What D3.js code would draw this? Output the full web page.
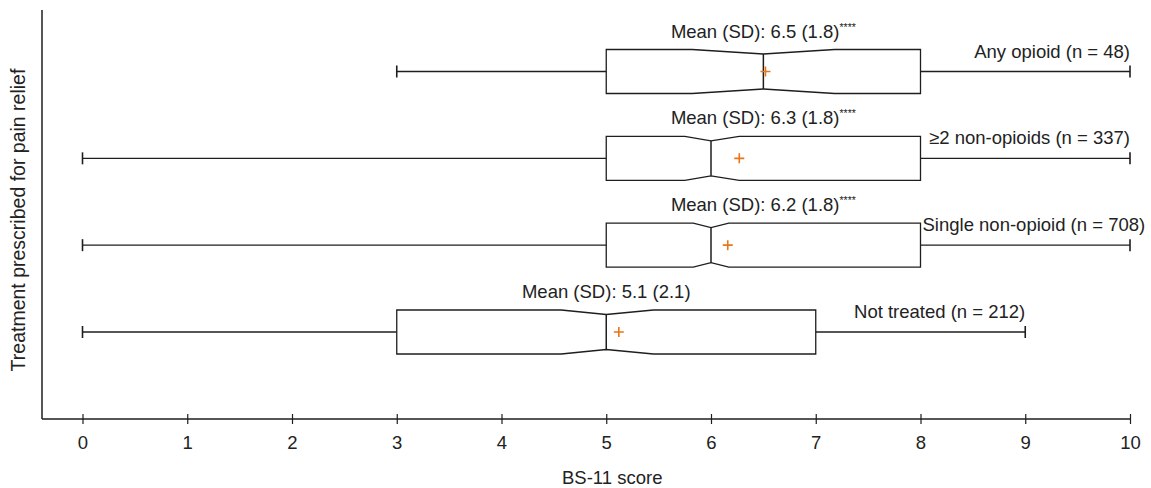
<!DOCTYPE html>
<html>
<head>
<meta charset="utf-8">
<script src="https://cdn.jsdelivr.net/npm/d3@7"></script>
<style>
  body { margin: 0; background: #fff; }
  text { font-family: "Liberation Sans", Arial, sans-serif; fill: #222; }
</style>
</head>
<body>
<svg id="chart" width="1151" height="488"></svg>
<script>
// box plot values (top to bottom)
const groups = ["Any opioid", "≥2 non-opioids", "Single non-opioid", "Not treated"];
const groupN = [48, 337, 708, 212];
const whiskerLo = [3, 0, 0, 0];
const q1 = [5, 5, 5, 3];
const median = [6.5, 6, 6, 5];
const q3 = [8, 8, 8, 7];
const whiskerHi = [10, 10, 10, 9];
const notchLo = [5.82, 5.75, 5.83, 4.57];
const notchHi = [7.18, 6.27, 6.17, 5.45];
const means = [6.52, 6.27, 6.16, 5.12];
const meanLabels = ["Mean (SD): 6.5 (1.8)", "Mean (SD): 6.3 (1.8)", "Mean (SD): 6.2 (1.8)", "Mean (SD): 5.1 (2.1)"];
const sigMarks = ["****", "****", "****", ""];
const xTicks = [0, 1, 2, 3, 4, 5, 6, 7, 8, 9, 10];

const svg = d3.select("#chart");
const axisX = 42, axisY = 419, topY = 10;
const boxHalf = 22, notchDepth = 4.5, capHalf = 6;
const ink = "#1e1e1e";
const fs = "18.5px";

const x = d3.scaleLinear().domain([0, 10]).range([82.5, 1130]);
const y = d3.scalePoint().domain(groups).range([71.5, 332]);

const rows = groups.map((g, i) => ({
  g, n: groupN[i], lo: whiskerLo[i], q1: q1[i], med: median[i], q3: q3[i],
  hi: whiskerHi[i], nLo: notchLo[i], nHi: notchHi[i], mean: means[i],
  label: meanLabels[i], sig: sigMarks[i]
}));

// axes lines
svg.append("line")
  .attr("x1", axisX).attr("x2", axisX)
  .attr("y1", topY).attr("y2", axisY)
  .attr("stroke", ink).attr("stroke-width", 1.5);

const xAxis = svg.append("g")
  .attr("transform", `translate(0,${axisY})`)
  .call(d3.axisBottom(x).tickValues(xTicks).tickFormat(d3.format("d")));
xAxis.select(".domain").remove();
xAxis.insert("line", ":first-child")
  .attr("x1", axisX).attr("x2", x(10))
  .attr("stroke", ink).attr("stroke-width", 1.5);
xAxis.selectAll(".tick line")
  .attr("y1", -5).attr("y2", 5)
  .attr("stroke", ink).attr("stroke-width", 1.2);
xAxis.selectAll(".tick text")
  .attr("y", 17).attr("dy", "0.71em")
  .style("font-size", fs)
  .style("font-family", "'Liberation Sans', Arial, sans-serif")
  .attr("fill", ink);

svg.append("text")
  .attr("x", x(5) + 6).attr("y", 484)
  .attr("text-anchor", "middle")
  .style("font-size", fs)
  .text("BS-11 score");

svg.append("text")
  .attr("transform", "translate(25,220) rotate(-90)")
  .attr("text-anchor", "middle")
  .style("font-size", "19.5px")
  .text("Treatment prescribed for pain relief");

const g = svg.selectAll(".box").data(rows).enter().append("g").attr("class", "box");

// whiskers and caps
g.append("line")
  .attr("x1", (d) => x(d.lo)).attr("x2", (d) => x(d.q1))
  .attr("y1", (d) => y(d.g)).attr("y2", (d) => y(d.g))
  .attr("stroke", ink).attr("stroke-width", 1.3);
g.append("line")
  .attr("x1", (d) => x(d.q3)).attr("x2", (d) => x(d.hi))
  .attr("y1", (d) => y(d.g)).attr("y2", (d) => y(d.g))
  .attr("stroke", ink).attr("stroke-width", 1.3);
["lo", "hi"].forEach((k) => {
  g.append("line")
    .attr("x1", (d) => x(d[k])).attr("x2", (d) => x(d[k]))
    .attr("y1", (d) => y(d.g) - capHalf).attr("y2", (d) => y(d.g) + capHalf)
    .attr("stroke", ink).attr("stroke-width", 1.6);
});

// notched box
g.append("path")
  .attr("d", (d) => {
    const c = y(d.g), t = c - boxHalf, b = c + boxHalf;
    return `M${x(d.q1)},${t}L${x(d.nLo)},${t}L${x(d.med)},${t + notchDepth}L${x(d.nHi)},${t}L${x(d.q3)},${t}` +
      `L${x(d.q3)},${b}L${x(d.nHi)},${b}L${x(d.med)},${b - notchDepth}L${x(d.nLo)},${b}L${x(d.q1)},${b}Z`;
  })
  .attr("fill", "#fff")
  .attr("stroke", ink).attr("stroke-width", 1.3);
g.append("line")
  .attr("x1", (d) => x(d.med)).attr("x2", (d) => x(d.med))
  .attr("y1", (d) => y(d.g) - boxHalf + notchDepth)
  .attr("y2", (d) => y(d.g) + boxHalf - notchDepth)
  .attr("stroke", ink).attr("stroke-width", 1.5);

// mean marker
g.append("path")
  .attr("d", (d) => {
    const cx = x(d.mean), cy = y(d.g);
    return `M${cx - 5},${cy}H${cx + 5}M${cx},${cy - 5}V${cy + 5}`;
  })
  .attr("stroke", "#e8761b").attr("stroke-width", 1.6);

// mean (SD) labels, centred over the box
const meanText = g.append("text")
  .attr("x", (d) => x((d.q1 + d.q3) / 2))
  .attr("y", (d) => y(d.g) - boxHalf - 12)
  .attr("text-anchor", "middle")
  .style("font-size", fs);
meanText.append("tspan").text((d) => d.label);
meanText.append("tspan")
  .attr("dy", -7)
  .style("font-size", "10.5px")
  .text((d) => d.sig);

// group labels, right aligned to the upper whisker but kept clear of the box
g.append("text")
  .attr("y", (d) => y(d.g) - boxHalf + 8)
  .style("font-size", fs)
  .text((d) => `${d.g} (n = ${d.n})`)
  .attr("x", function (d) {
    const w = this.getComputedTextLength();
    return Math.max(x(d.q3) + 2, x(d.hi) - w);
  });
</script>
</body>
</html>
